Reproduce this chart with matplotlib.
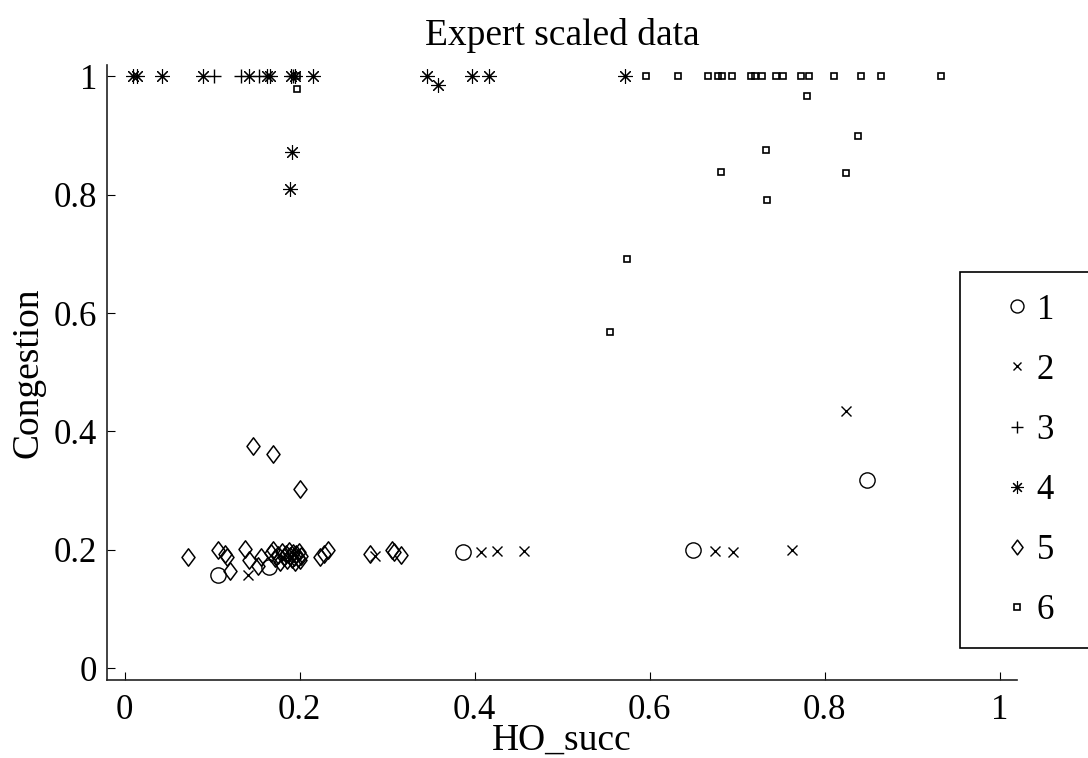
import matplotlib
matplotlib.use("Agg")
import matplotlib.pyplot as plt
from matplotlib.path import Path

plt.rcParams['font.family'] = ['Liberation Serif', 'DejaVu Serif']

# Cluster 1
c1_x = [0.107, 0.165, 0.387, 0.650, 0.849]
c1_y = [0.157, 0.171, 0.196, 0.199, 0.318]

# Cluster 2
c2_x = [0.141, 0.286, 0.407, 0.426, 0.457, 0.675, 0.695, 0.763, 0.825]
c2_y = [0.158, 0.189, 0.197, 0.198, 0.198, 0.198, 0.197, 0.199, 0.435]

# Cluster 3
c3_x = [0.102, 0.133, 0.154, 0.192]
c3_y = [1.0, 1.0, 1.0, 1.0]

# Cluster 4
c4_x = [0.010, 0.014, 0.043, 0.090, 0.142, 0.163, 0.166, 0.190, 0.195, 0.215,
        0.346, 0.397, 0.416, 0.572, 0.358, 0.191, 0.189]
c4_y = [1.0, 1.0, 1.0, 1.0, 1.0, 1.0, 1.0, 1.0, 1.0, 1.0,
        1.0, 1.0, 1.0, 1.0, 0.986, 0.872, 0.810]

# Cluster 5
c5_x = [0.072, 0.107, 0.115, 0.117, 0.121, 0.138, 0.142, 0.153, 0.156,
        0.147, 0.170, 0.200,
        0.167, 0.170, 0.172, 0.175, 0.178, 0.180, 0.182, 0.184, 0.186, 0.188,
        0.189, 0.191, 0.192, 0.194, 0.195, 0.196, 0.198, 0.199, 0.200, 0.202,
        0.223, 0.228, 0.232, 0.281, 0.306, 0.308, 0.316]
c5_y = [0.187, 0.199, 0.193, 0.187, 0.164, 0.201, 0.183, 0.172, 0.188,
        0.376, 0.362, 0.302,
        0.195, 0.200, 0.186, 0.192, 0.180, 0.197, 0.188, 0.193, 0.182, 0.198,
        0.190, 0.185, 0.195, 0.188, 0.180, 0.193, 0.186, 0.197, 0.182, 0.190,
        0.188, 0.193, 0.199, 0.193, 0.199, 0.196, 0.192]

# Cluster 6
c6_x = [0.197, 0.197, 0.596, 0.633, 0.667, 0.678, 0.683, 0.694, 0.716, 0.720,
        0.728, 0.744, 0.753, 0.773, 0.782, 0.811, 0.842, 0.864, 0.933,
        0.780, 0.838, 0.733, 0.682, 0.825, 0.734, 0.574, 0.555]
c6_y = [1.0, 0.978, 1.0, 1.0, 1.0, 1.0, 1.0, 1.0, 1.0, 1.0,
        1.0, 1.0, 1.0, 1.0, 1.0, 1.0, 1.0, 1.0, 1.0,
        0.966, 0.899, 0.876, 0.839, 0.837, 0.791, 0.691, 0.568]

labels = ['1', '2', '3', '4', '5', '6']
x_ticks = [0, 0.2, 0.4, 0.6, 0.8, 1]
y_ticks = [0, 0.2, 0.4, 0.6, 0.8, 1]
tick_text = ['0', '0.2', '0.4', '0.6', '0.8', '1']

# Wide diamond like the classic MATLAB marker
diamond = Path([(0, 1), (0.75, 0), (0, -1), (-0.75, 0), (0, 1)],
               [Path.MOVETO, Path.LINETO, Path.LINETO, Path.LINETO, Path.CLOSEPOLY])

styles = [
    dict(marker='o', ms=11, mew=1.0),
    dict(marker='x', ms=7, mew=1.0),
    dict(marker='+', ms=10, mew=1.0),
    dict(marker=(8, 2, 0), ms=10.5, mew=0.8),
    dict(marker=diamond, ms=12.5, mew=1.1),
    dict(marker='s', ms=5, mew=1.2),
]

fig = plt.figure(figsize=(10.88, 7.58), dpi=100)
ax = fig.add_axes([107 / 1088, 1 - 680 / 758, 910 / 1088, (680 - 64.5) / 758])

series = [(c1_x, c1_y), (c2_x, c2_y), (c3_x, c3_y),
          (c4_x, c4_y), (c5_x, c5_y), (c6_x, c6_y)]
for (xs, ys), st, lab in zip(series, styles, labels):
    ax.plot(xs, ys, linestyle='none', color='black', mfc='none', label=lab, **st)

ax.set_xlim(-0.02, 1.02)
ax.set_ylim(-0.02, 1.02)
ax.set_xticks(x_ticks)
ax.set_yticks(y_ticks)
ax.set_xticklabels(tick_text)
ax.set_yticklabels(tick_text)
ax.tick_params(direction='in', length=6, width=0.8, labelsize=25)
ax.tick_params(axis='x', pad=10)
ax.tick_params(axis='y', pad=7)
for s in ['top', 'right']:
    ax.spines[s].set_visible(False)
for s in ['left', 'bottom']:
    ax.spines[s].set_linewidth(1.2)
    ax.spines[s].set_color('#222222')

ax.set_xlabel('HO_succ', fontsize=27, labelpad=-3)
ax.set_ylabel('Congestion', fontsize=27, labelpad=6)
ax.set_title('Expert scaled data', fontsize=27, pad=14)

leg = fig.legend(loc='upper left',
                 bbox_to_anchor=(960 / 1088, 0, 240 / 1088, 1 - 272 / 758),
                 bbox_transform=fig.transFigure, mode='expand',
                 borderaxespad=0, fontsize=25, frameon=True, fancybox=False,
                 edgecolor='black', framealpha=1, markerscale=0.85,
                 handlelength=2.07, handletextpad=-0.48, labelspacing=0.78,
                 borderpad=0.62)
leg.get_frame().set_linewidth(1.2)

fig.savefig('out.png', dpi=100)
